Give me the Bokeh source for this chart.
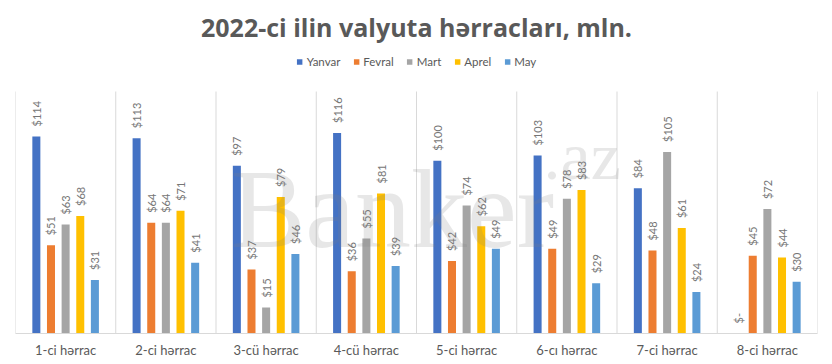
import math
from bokeh.plotting import figure
from bokeh.models import ColumnDataSource, FixedTicker, Legend, LegendItem, Range1d
from bokeh.core.properties import value
from bokeh.embed import file_html
from bokeh.resources import INLINE

# ---------------- data ----------------
categories = ["1-ci hərrac", "2-ci hərrac", "3-cü hərrac", "4-cü hərrac",
              "5-ci hərrac", "6-cı hərrac", "7-ci hərrac", "8-ci hərrac"]
months = ["Yanvar", "Fevral", "Mart", "Aprel", "May"]
yanvar = [114, 113, 97, 116, 100, 103, 84, 0]
fevral = [51, 64, 37, 36, 42, 49, 48, 45]
mart = [63, 64, 15, 55, 74, 78, 105, 72]
aprel = [68, 71, 79, 81, 62, 83, 61, 44]
may = [31, 41, 46, 39, 49, 29, 24, 30]
series = [yanvar, fevral, mart, aprel, may]
title_text = "2022-ci ilin valyuta hərracları, mln."
watermark_main = "Banker"
watermark_sup = ".az"

# ---------------- style ----------------
colors = ["#4472C4", "#ED7D31", "#A5A5A5", "#FFC000", "#5B9BD5"]
text_grey = "#595959"
label_grey = "#767676"
grid_grey = "#D9D9D9"
FONT = "Lato"

W, H = 832, 364
LEFT, RIGHT = 15, 15
FRAME_W = W - LEFT - RIGHT
BASE_Y = 333                         # pixel y of the baseline
PLOT_TOP = 140                       # value at the top of the plotting area
PX_PER_UNIT = (BASE_Y - 91) / PLOT_TOP
Y_MAX = BASE_Y / PX_PER_UNIT

n = len(categories)


def ref_y(py):
    return (BASE_Y - py) / PX_PER_UNIT


def ref_x(px):
    return (px - LEFT) / (FRAME_W / n)


step = 0.146
offsets = [(j - 2) * step for j in range(len(months))]
bar_w = 0.08

p = figure(width=W, height=H,
           x_range=Range1d(0, n), y_range=Range1d(0, Y_MAX),
           output_backend="svg", toolbar_location=None, title=None,
           y_axis_location=None, min_border_left=LEFT, min_border_right=RIGHT,
           min_border_top=0, min_border_bottom=H - BASE_Y)
p.outline_line_color = None
p.background_fill_color = "white"
p.border_fill_color = "white"
p.xgrid.visible = False
p.ygrid.visible = False

# category separators
bounds = list(range(n + 1))
p.segment(x0=bounds, y0=[0] * len(bounds), x1=bounds, y1=[PLOT_TOP] * len(bounds),
          line_color=grid_grey, line_width=1)

items = []
for j, (m, vals) in enumerate(zip(months, series)):
    xs = [i + 0.5 + offsets[j] for i in range(n)]
    labels = ["$-" if v == 0 else f"${v}" for v in vals]
    src = ColumnDataSource(dict(x=xs, top=vals, lab=labels))
    r = p.vbar(x="x", top="top", width=bar_w, source=src,
               fill_color=colors[j], line_color=None)
    items.append(LegendItem(label=m, renderers=[r]))
    p.text(x="x", y="top", text="lab", source=src, angle=math.pi / 2,
           text_align="left", text_baseline="middle", y_offset=-10,
           text_font=value(FONT), text_font_size="11px", text_color=label_grey)

# x axis
ax = p.xaxis[0]
ax.ticker = FixedTicker(ticks=[i + 0.5 for i in range(n)])
ax.major_label_overrides = {i + 0.5: c for i, c in enumerate(categories)}
ax.axis_line_color = grid_grey
ax.major_tick_line_color = None
ax.minor_tick_line_color = None
ax.major_tick_out = 0
ax.major_label_standoff = 8
ax.major_label_text_font = FONT
ax.major_label_text_font_size = "13px"
ax.major_label_text_color = text_grey

# title
p.text(x=[n / 2], y=[ref_y(26)], text=[title_text], text_align="center",
       text_baseline="middle", text_font=value("Open Sans"), text_font_size="25px",
       text_font_style="bold", text_color=text_grey)

# watermark
p.text(x=[ref_x(230)], y=[ref_y(208)], text=[watermark_main], text_align="left",
       text_baseline="alphabetic", text_font=value("Liberation Serif"),
       text_font_size="112px", text_color="#808080", text_alpha=0.19)
p.text(x=[ref_x(543)], y=[ref_y(155)], text=[watermark_sup], text_align="left",
       text_baseline="alphabetic", text_font=value("Liberation Serif"),
       text_font_size="68px", text_color="#808080", text_alpha=0.19)

legend = Legend(items=items, orientation="horizontal", location="top_center",
                glyph_width=7, glyph_height=7, label_standoff=4, spacing=12,
                label_text_font=FONT, label_text_font_size="11.5px",
                label_text_color=text_grey, border_line_color=None,
                background_fill_alpha=0, margin=55, padding=0)
p.add_layout(legend)

open("out.html", "w").write(file_html(p, INLINE))
